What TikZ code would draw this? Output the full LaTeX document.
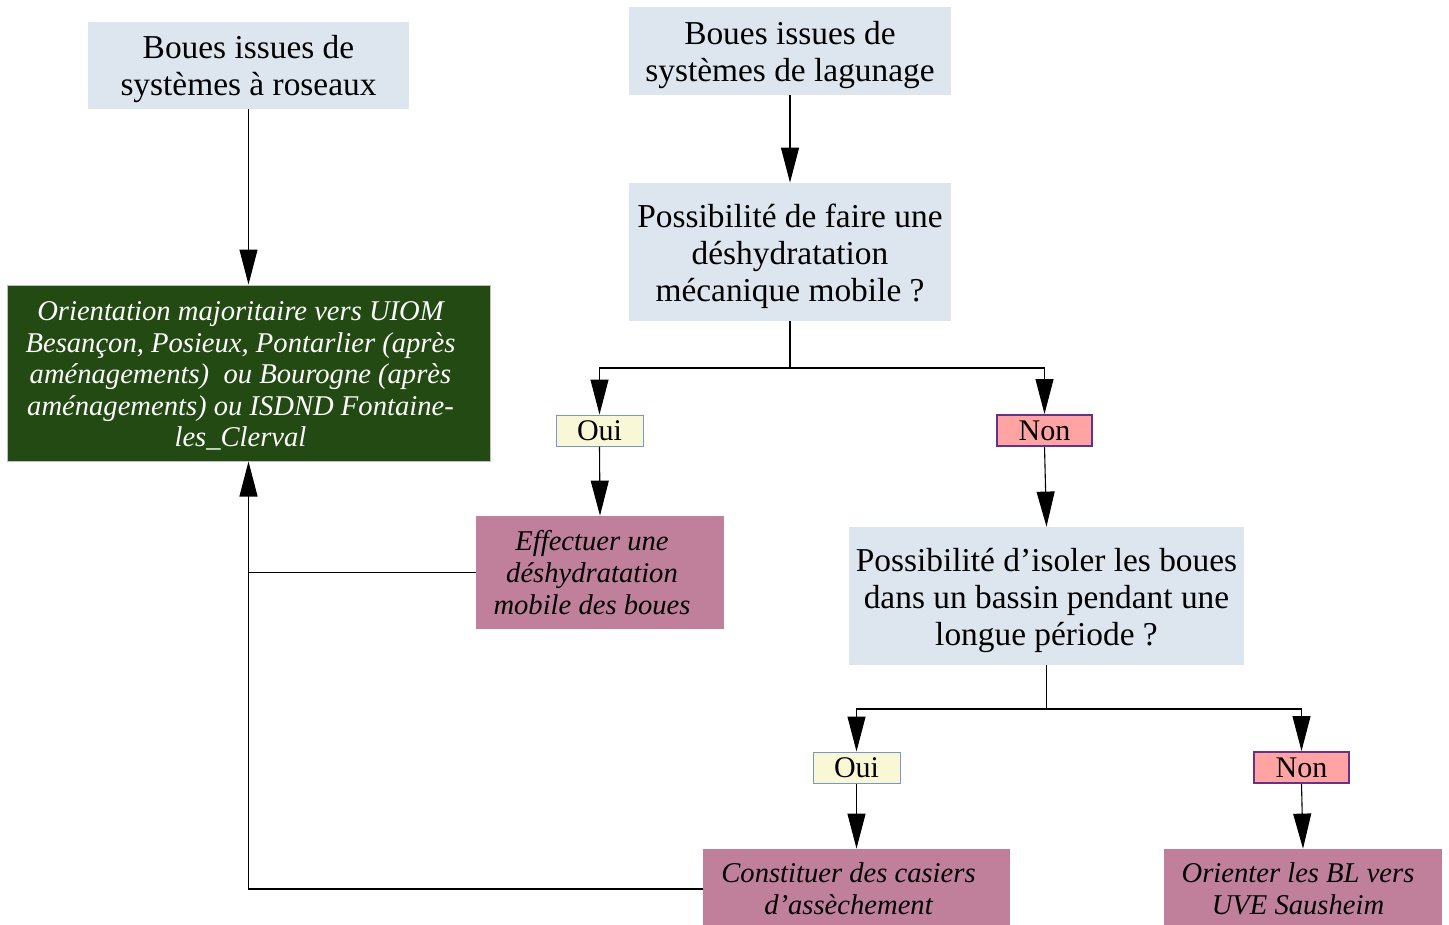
\documentclass[tikz,border=0pt]{standalone}
\usepackage{fontspec}
\setmainfont{Liberation Serif}
\usetikzlibrary{arrows.meta}
\definecolor{qbox}{RGB}{221,230,239}
\definecolor{goal}{RGB}{35,74,19}
\definecolor{act}{RGB}{192,128,155}
\definecolor{yesfill}{RGB}{248,248,214}
\definecolor{yesline}{RGB}{120,150,200}
\definecolor{nofill}{RGB}{255,163,163}
\definecolor{noline}{RGB}{100,50,140}
\tikzset{
  base/.style={rectangle, inner sep=0pt, align=center, anchor=center},
  question/.style={base, fill=qbox},
  qtext/.style={base, font=\fontsize{16.7}{18.5}\selectfont},
  target/.style={base, fill=goal, draw=black!25, line width=0.5pt},
  ttext/.style={base, text=white, font=\fontsize{14.3}{15.75}\selectfont\itshape},
  action/.style={base, fill=act},
  atext/.style={base, font=\fontsize{14.3}{15.9}\selectfont\itshape},
  yes/.style={base, fill=yesfill, draw=yesline, line width=0.5pt, font=\fontsize{15}{17}\selectfont},
  no/.style={base, fill=nofill, draw=noline, line width=1pt, font=\fontsize{15}{17}\selectfont},
  link/.style={draw=black, line width=0.55pt},
  arr/.style={link, -{Triangle[length=17.5pt, width=9pt]}},
}
\begin{document}
\begin{tikzpicture}[x=0.5pt, y=-0.5pt]
\useasboundingbox[fill=white] (0,0) rectangle (1449,925);

% left column
\node[question, minimum width=160.5pt, minimum height=43.5pt] (rose) at (248.5,65.5) {};
\node[qtext] at ([yshift=-2pt]rose.center) {Boues issues de\\systèmes à roseaux};
\node[target, minimum width=241.5pt, minimum height=88pt] (uiom) at (248.5,373) {};
\node[ttext] at ([xshift=-4pt, yshift=-1.5pt]uiom.center)
  {Orientation majoritaire vers UIOM\\Besançon, Posieux, Pontarlier (après\\aménagements)\ \ ou Bourogne (après\\aménagements) ou ISDND Fontaine-\\les\_Clerval};

% right branch
\node[question, minimum width=161pt, minimum height=44pt] (lag) at (790,51) {};
\node[qtext] at ([yshift=-2pt]lag.center) {Boues issues de\\systèmes de lagunage};
\node[question, minimum width=161pt, minimum height=69pt] (meca) at (790,252) {};
\node[qtext] at ([yshift=-2pt]meca.center)
  {Possibilité de faire une\\déshydratation\\mécanique mobile ?};
\node[yes, minimum width=43.5pt, minimum height=15.5pt] (oui1) at (599.5,430.5) {Oui};
\node[no, minimum width=47.5pt, minimum height=15.5pt] (non1) at (1044.5,430.5) {Non};
\node[action, minimum width=124pt, minimum height=56.5pt] (eff) at (600,572.5) {};
\node[atext] at ([xshift=-4pt]eff.center)
  {Effectuer une\\déshydratation\\mobile des boues};
\node[question, minimum width=197.5pt, minimum height=69pt] (bassin) at (1046.5,596) {};
\node[qtext] at ([yshift=-2pt]bassin.center)
  {Possibilité d’isoler les boues\\dans un bassin pendant une\\longue période ?};
\node[yes, minimum width=43.5pt, minimum height=15.5pt] (oui2) at (856.5,767.5) {Oui};
\node[no, minimum width=47.5pt, minimum height=15.5pt] (non2) at (1301.5,767.5) {Non};
\node[action, minimum width=153.5pt, minimum height=40pt] (cas) at (856.5,889) {};
\node[atext] at ([xshift=-4pt]cas.center) {Constituer des casiers\\d’assèchement};
\node[action, minimum width=139pt, minimum height=40pt] (uve) at (1303,889) {};
\node[atext] at ([xshift=-2.5pt]uve.center) {Orienter les BL vers\\UVE Sausheim};

% junction points of the two splits
\coordinate (j1) at (790,368);
\coordinate (j2) at (1046.5,709);

\draw[arr] (rose.south) -- (uiom.north);
\draw[arr] (lag.south) -- (meca.north);
\draw[link] (meca.south) -- (j1);
\draw[arr] (j1) -| (oui1.north);
\draw[arr] (j1) -| (non1.north);
\draw[arr] (oui1.south) -- (eff.north);
\draw[arr] (non1.south) -- (bassin.north);
\draw[link] (bassin.south) -- (j2);
\draw[arr] (j2) -| (oui2.north);
\draw[arr] (j2) -| (non2.north);
\draw[arr] (oui2.south) -- (cas.north);
\draw[arr] (non2.south) -- (uve.north);
\draw[link] (eff.west) -- (eff.west -| uiom.south);
\draw[arr] (cas.west) -| (uiom.south);
\end{tikzpicture}
\end{document}
